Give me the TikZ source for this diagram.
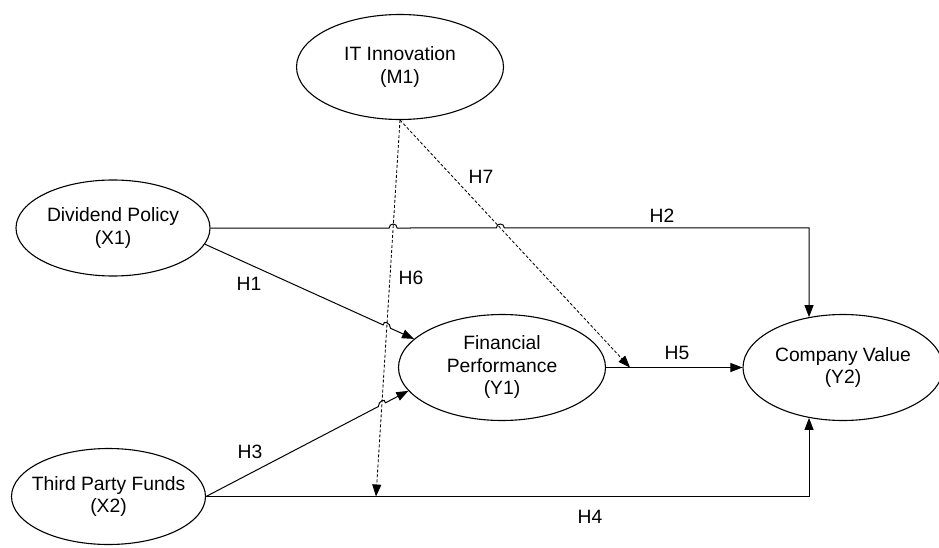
\documentclass[tikz,border=0pt]{standalone}
\usepackage{fontspec}
\setmainfont{Liberation Sans}
\usetikzlibrary{shapes.geometric,arrows.meta,calc,intersections}
\begin{document}
\begin{tikzpicture}[x=1pt,y=-1pt,
  var/.style={ellipse,draw,line width=1.1pt,inner xsep=-30pt,inner ysep=0pt,align=center,
              font=\fontsize{19.3}{22.5}\selectfont},
  conn/.style={line width=1pt,-{Triangle[length=12pt,width=9pt]}},
  mod/.style={line width=0.85pt,dash pattern=on 3pt off 2pt,-{Triangle[length=12pt,width=9pt]}},
  lbl/.style={font=\fontsize{19.3}{22.5}\selectfont,inner sep=0pt}]
\useasboundingbox (0,0) rectangle (939,548);

\node[var,minimum width=207pt,minimum height=105pt] (IT) at (400,67) {IT Innovation\\(M1)};
\node[var,minimum width=194pt,minimum height=96pt] (DP) at (113,228) {Dividend Policy\\(X1)};
\node[var,minimum width=194pt,minimum height=96pt] (TPF) at (108.5,496.5) {Third Party Funds\\(X2)};
\node[var,minimum width=207pt,minimum height=106pt] (FP) at (502,367.5) {Financial\\Performance\\(Y1)};
\node[var,minimum width=200pt,minimum height=106pt] (CV) at (843,367.5) {Company Value\\(Y2)};

\coordinate (h6end) at (376,496.5);
\coordinate (h7end) at (630,367.5);

\path[name path=p6] (IT.south) -- (h6end);
\path[name path=p7] (IT.south) -- (h7end);
\path[name path=p2] (DP.east) -- (DP.east -| CV.124.3);
\path[name path=p1] (DP.-10) -- (FP.162);
\path[name path=p3] (TPF.east) -- (FP.194);

\path[name intersections={of=p6 and p2,by={x62}}];
\path[name intersections={of=p7 and p2,by={x72}}];
\path[name intersections={of=p6 and p1,by={x61}}];
\path[name intersections={of=p6 and p3,by={x63}}];

% H2
\draw[conn] (DP.east) -- ($(x62)+(-4,0)$) .. controls +(0,-5.3) and +(0,-5.3) .. ($(x62)+(4,0)$)
  -- ($(x72)+(-4,0)$) .. controls +(0,-5.3) and +(0,-5.3) .. ($(x72)+(4,0)$) -| (CV.124.3);
% H1
\draw[conn] (DP.-10) -- ($(x61)!4pt!(DP.-10)$) .. controls +(0,-5.3) and +(0,-5.3) .. ($(x61)!4pt!(FP.162)$) -- (FP.162);
% H3
\draw[conn] (TPF.east) -- ($(x63)!4pt!(TPF.east)$) .. controls +(0,-5.3) and +(0,-5.3) .. ($(x63)!4pt!(FP.194)$) -- (FP.194);
% H4
\draw[conn] (TPF.east) -| (CV.-124.3);
% H5
\draw[conn] (FP.east) -- (CV.west);
% H6, H7
\draw[mod] (IT.south) -- (h6end);
\draw[mod] (IT.south) -- (h7end);

\node[lbl] (l1) at (249,284) {H1};
\node[lbl] (l2) at (662,216) {H2};
\node[lbl] (l3) at (250,452) {H3};
\node[lbl] (l4) at (590,517) {H4};
\node[lbl] (l5) at (677,353) {H5};
\node[lbl] (l6) at (411,278) {H6};
\node[lbl] (l7) at (481,177) {H7};
\end{tikzpicture}
\end{document}
